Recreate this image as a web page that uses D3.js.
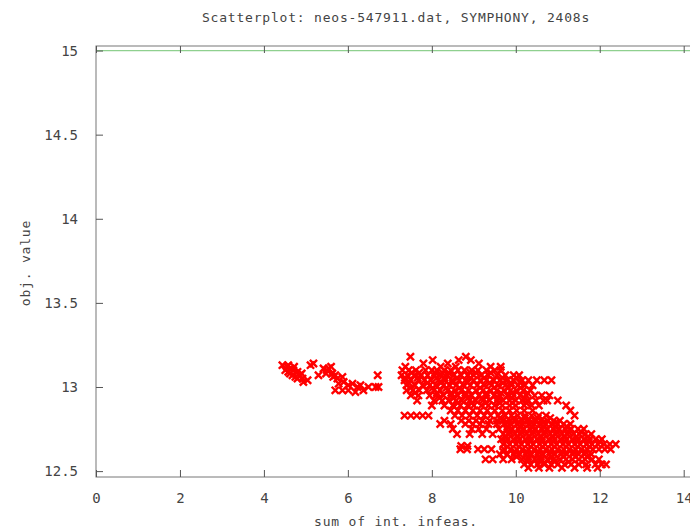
<!DOCTYPE html>
<html>
<head>
<meta charset="utf-8">
<script src="https://cdn.jsdelivr.net/npm/d3@7"></script>
<style>
  body { margin: 0; background: #fff; }
  text { font-family: 'DejaVu Sans Mono', monospace; fill: #444; }
</style>
</head>
<body>
<div id="chart"></div>
<script>
const title = 'Scatterplot: neos-547911.dat, SYMPHONY, 2408s';
const xLabel = 'sum of int. infeas.';
const yLabel = 'obj. value';
const xTicks = [0, 2, 4, 6, 8, 10, 12, 14];
const yTicks = [12.5, 13, 13.5, 14, 14.5, 15];
const xDomain = [0, 14];
const yDomain = [12.465, 15.027];
const refLine = 15;

// rows of points: [obj. value, [sum of int. infeas., ...]]
const leftCluster = [
  [13.14, [5.18]],
  [13.13, [4.44, 4.58, 5.11]],
  [13.12, [4.55, 4.72, 5.60]],
  [13.11, [4.63, 5.42, 5.54]],
  [13.10, [4.51, 4.70, 5.50]],
  [13.09, [4.80, 4.58]],
  [13.08, [4.62, 4.90, 5.48, 5.63]],
  [13.07, [4.68, 4.86, 5.30, 5.70, 6.71]],
  [13.06, [4.75, 5.65, 5.87]],
  [13.05, [4.80, 4.92, 5.75]],
  [13.04, [5.04]],
  [13.03, [4.94, 5.90]],
  [13.02, [5.78, 6.11]],
  [13.01, [6.01, 6.30]],
  [13.00, [6.23, 6.49, 6.66, 6.73]],
  [12.98, [5.70, 5.87, 6.01, 6.37]],
  [12.97, [6.18]]
];

const upperBand = [
  [13.18, [7.49, 8.81]],
  [13.16, [8.02, 8.64, 8.93]],
  [13.14, [7.80, 8.38, 9.12]],
  [13.12, [7.37, 8.21, 8.57, 9.40, 9.64]],
  [13.10, [7.30, 7.45, 7.62, 7.85, 8.00, 8.12, 8.30, 8.45, 8.62, 8.78, 8.95, 9.10, 9.30, 9.50, 9.64]],
  [13.085, [7.52, 7.70, 8.08, 8.25, 8.40, 8.92, 9.05, 9.40]],
  [13.07, [7.28, 7.42, 7.58, 7.75, 7.90, 8.05, 8.20, 8.38, 8.52, 8.70, 8.85, 9.00, 9.18, 9.35, 9.55, 9.75, 9.95, 10.08]],
  [13.055, [7.36, 7.66, 8.12, 8.30, 8.60, 8.92, 9.25, 9.68, 10.02]],
  [13.04, [7.35, 7.50, 7.68, 7.82, 7.98, 8.15, 8.32, 8.48, 8.65, 8.80, 9.00, 9.15, 9.30, 9.48, 9.62, 9.80, 9.95, 10.15, 10.30, 10.50, 10.68, 10.85]],
  [13.025, [7.45, 7.90, 8.22, 8.50, 8.85, 9.38, 9.70, 9.88, 10.10]],
  [13.01, [7.40, 7.60, 7.78, 7.95, 8.10, 8.28, 8.42, 8.58, 8.75, 8.92, 9.08, 9.25, 9.42, 9.58, 9.75, 9.90, 10.05, 10.22, 10.40]],
  [12.995, [7.50, 8.02, 8.35, 8.66, 9.15, 9.48, 9.82, 10.12]],
  [12.98, [7.40, 7.55, 7.70, 7.88, 8.05, 8.20, 8.38, 8.55, 8.70, 8.88, 9.05, 9.22, 9.40, 9.55, 9.72, 9.88, 10.02, 10.18, 10.35]],
  [12.965, [7.60, 8.12, 8.46, 8.80, 9.30, 9.65, 9.92, 10.28]],
  [12.95, [7.50, 7.68, 7.95, 8.10, 8.28, 8.45, 8.62, 8.78, 8.95, 9.12, 9.30, 9.48, 9.62, 9.80, 9.95, 10.10, 10.25, 10.45, 10.62, 10.80]],
  [12.935, [8.18, 8.52, 8.86, 9.20, 9.58, 9.90, 10.20]],
  [12.92, [7.65, 8.05, 8.25, 8.40, 8.58, 8.72, 8.90, 9.05, 9.22, 9.38, 9.55, 9.70, 9.85, 10.00, 10.15, 10.30, 10.48, 10.66, 10.75, 11.00]],
  [12.905, [8.62, 8.95, 9.28, 9.62, 9.92, 10.25]],
  [12.89, [8.00, 8.30, 8.50, 8.68, 8.85, 9.00, 9.18, 9.35, 9.50, 9.68, 9.85, 10.00, 10.20, 10.38, 10.55, 11.20]],
  [12.86, [8.45, 8.62, 8.80, 8.98, 9.15, 9.32, 9.50, 9.68, 9.85, 10.02, 10.20, 10.40, 11.30]],
  [12.83, [7.35, 7.50, 7.64, 7.78, 7.92, 8.55, 8.72, 8.90, 9.08, 9.25, 9.40, 9.58, 9.75, 9.90, 10.05, 10.22, 10.38, 10.55, 10.72, 11.40]]
];

const mainBlob = [
  [12.815, [9.62, 9.95, 10.22, 10.52, 10.82]],
  [12.80, [8.30, 8.70, 8.88, 9.05, 9.20, 9.38, 9.55, 9.70, 9.85, 10.00, 10.15, 10.30, 10.45, 10.60, 10.75, 10.90, 11.05]],
  [12.79, [9.78, 10.08, 10.38, 10.66, 10.95]],
  [12.78, [8.20, 8.45, 8.80, 8.98, 9.15, 9.35, 9.55, 9.72, 9.88, 10.02, 10.16, 10.30, 10.44, 10.58, 10.72, 10.86, 11.00, 11.14, 11.30]],
  [12.765, [9.80, 10.09, 10.37, 10.65, 10.93, 11.21]],
  [12.75, [8.50, 8.95, 9.12, 9.30, 9.60, 9.78, 9.92, 10.06, 10.20, 10.34, 10.48, 10.62, 10.76, 10.90, 11.04, 11.18, 11.32, 11.48, 11.62]],
  [12.735, [9.85, 10.13, 10.41, 10.69, 10.97, 11.25, 11.55]],
  [12.72, [8.60, 8.90, 9.20, 9.45, 9.70, 9.84, 9.98, 10.12, 10.26, 10.40, 10.54, 10.68, 10.82, 10.96, 11.10, 11.24, 11.38, 11.52, 11.66, 11.80]],
  [12.705, [9.77, 10.05, 10.33, 10.61, 10.89, 11.17, 11.45, 11.72]],
  [12.69, [9.65, 9.80, 9.94, 10.08, 10.22, 10.36, 10.50, 10.64, 10.78, 10.92, 11.06, 11.20, 11.34, 11.48, 11.62, 11.76, 11.90, 12.05]],
  [12.675, [9.78, 10.06, 10.34, 10.62, 10.90, 11.18, 11.46, 11.74, 12.00]],
  [12.66, [9.70, 9.86, 10.00, 10.14, 10.28, 10.42, 10.56, 10.70, 10.84, 10.98, 11.12, 11.26, 11.40, 11.54, 11.68, 11.82, 11.96, 12.10, 12.24, 12.38]],
  [12.65, [8.70, 8.85]],
  [12.645, [9.80, 10.08, 10.36, 10.64, 10.92, 11.20, 11.48, 11.76, 12.18]],
  [12.63, [8.68, 8.84, 9.10, 9.25, 9.42, 9.72, 9.88, 10.02, 10.16, 10.30, 10.44, 10.58, 10.72, 10.86, 11.00, 11.14, 11.28, 11.42, 11.56, 11.70, 11.84, 11.98, 12.12, 12.26]],
  [12.615, [9.70, 9.98, 10.26, 10.54, 10.82, 11.10, 11.38, 11.66]],
  [12.60, [9.62, 9.80, 9.95, 10.10, 10.24, 10.38, 10.52, 10.66, 10.80, 10.94, 11.08, 11.22, 11.36, 11.50, 11.64, 11.80]],
  [12.585, [10.02, 10.30, 10.58, 10.86, 11.14, 11.42, 11.70]],
  [12.57, [9.28, 9.45, 9.70, 9.90, 10.15, 10.30, 10.45, 10.60, 10.75, 10.90, 11.05, 11.20, 11.35, 11.50, 11.65, 11.82, 11.98]],
  [12.555, [10.28, 10.60, 10.92, 11.26, 11.58]],
  [12.54, [10.20, 10.36, 10.52, 10.68, 10.84, 11.00, 11.16, 11.32, 11.50, 11.68, 11.90, 12.05, 12.15]],
  [12.52, [10.30, 10.55, 10.80, 11.10, 11.40, 11.70, 11.95]]
];

const W = 690, H = 530;
const plot = { left: 96, top: 46, bottom: 477, right: 720 };

const svg = d3.select('#chart').append('svg')
  .attr('width', W).attr('height', H);

const x = d3.scaleLinear().domain(xDomain).range([plot.left, 683.7]);
const y = d3.scaleLinear().domain(yDomain).range([plot.bottom, plot.top]);

const points = [];
[leftCluster, upperBand, mainBlob].forEach(rows =>
  rows.forEach(([yv, xs]) => xs.forEach(xv => points.push([xv, yv]))));

// reference line at 15
svg.append('line')
  .attr('x1', plot.left).attr('x2', W)
  .attr('y1', y(refLine)).attr('y2', y(refLine))
  .attr('stroke', '#8fd08f').attr('stroke-width', 1.2);

// markers
const s = 3.6;
svg.append('g')
  .selectAll('path')
  .data(points)
  .join('path')
  .attr('d', d => {
    const cx = x(d[0]), cy = y(d[1]);
    return 'M' + (cx - s) + ',' + (cy - s) + 'L' + (cx + s) + ',' + (cy + s) +
      'M' + (cx - s) + ',' + (cy + s) + 'L' + (cx + s) + ',' + (cy - s);
  })
  .attr('stroke', '#f00')
  .attr('stroke-width', 2.4)
  .attr('fill', 'none');

// frame
svg.append('rect')
  .attr('x', plot.left).attr('y', plot.top)
  .attr('width', plot.right - plot.left).attr('height', plot.bottom - plot.top)
  .attr('fill', 'none').attr('stroke', '#777').attr('stroke-width', 1);

const axisStyle = g => {
  g.select('.domain').remove();
  g.selectAll('.tick line').attr('stroke', '#555');
  g.selectAll('.tick text')
    .style('font-size', '14px')
    .style('font-family', "'DejaVu Sans Mono', monospace")
    .attr('fill', '#444');
};

svg.append('g')
  .attr('transform', 'translate(0,' + plot.bottom + ')')
  .call(d3.axisBottom(x).tickValues(xTicks).tickSize(-7).tickPadding(16).tickFormat(d3.format('d')))
  .call(axisStyle);

svg.append('g')
  .attr('transform', 'translate(0,' + plot.top + ')')
  .call(d3.axisTop(x).tickValues(xTicks).tickSize(-7).tickFormat(''))
  .call(axisStyle);

svg.append('g')
  .attr('transform', 'translate(' + plot.left + ',0)')
  .call(d3.axisLeft(y).tickValues(yTicks).tickSize(-7).tickPadding(18).tickFormat(d => d))
  .call(axisStyle);

svg.append('text')
  .attr('x', 396).attr('y', 22)
  .attr('text-anchor', 'middle')
  .style('font-size', '13px')
  .style('letter-spacing', '0.8px')
  .text(title);

svg.append('text')
  .attr('x', 396).attr('y', 526)
  .attr('text-anchor', 'middle')
  .style('font-size', '13px')
  .style('letter-spacing', '0.8px')
  .text(xLabel);

svg.append('text')
  .attr('transform', 'translate(30,263) rotate(-90)')
  .attr('text-anchor', 'middle')
  .style('font-size', '13px')
  .style('letter-spacing', '0.8px')
  .text(yLabel);
</script>
</body>
</html>
